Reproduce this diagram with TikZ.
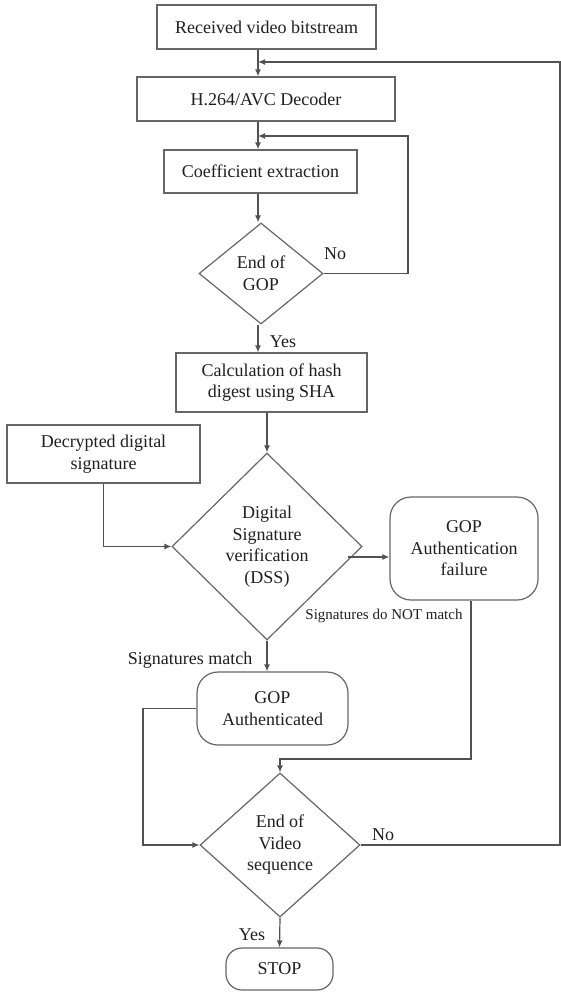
\documentclass[tikz,border=0pt]{standalone}
\usepackage{fontspec}
\setmainfont{Liberation Serif}
\newfontfamily\tnr{Liberation Serif}
\usetikzlibrary{shapes.geometric,arrows.meta}
\begin{document}
\begin{tikzpicture}[x=1pt,y=-1pt,
  every node/.style={text=black!88},
  box/.style={draw=black!60, line width=1.2pt, rectangle, inner sep=0pt, align=center,
    font=\tnr\fontsize{18}{21.5}\selectfont},
  rbox/.style={box, rounded corners=21pt},
  dia/.style={draw=black!60, line width=1.2pt, diamond, inner sep=0pt, align=center,
    font=\tnr\fontsize{18}{21.5}\selectfont},
  conn/.style={draw=black!68, line width=1.2pt},
  arr/.style={conn, -{Latex[length=7pt,width=6pt]}},
  lbl/.style={inner sep=0pt, font=\tnr\fontsize{18}{21.5}\selectfont},
  slbl/.style={inner sep=0pt, font=\tnr\fontsize{15}{18}\selectfont}]
\useasboundingbox (0,0) rectangle (561,992);
% helper coordinates
\coordinate (sp) at (258,0);
\coordinate (topy) at (0,62);
\coordinate (loopA) at (408,136);
\coordinate (rx) at (560,0);
\coordinate (lx) at (143,0);
\coordinate (fx) at (471,0);
\coordinate (fy) at (0,759);
\coordinate (fa) at (348,557);
% nodes
\node[box, minimum width=219pt, minimum height=44pt] (recv) at (266.5,27) {Received video bitstream};
\node[box, minimum width=258pt, minimum height=44pt] (h264) at (266,99) {H.264/AVC Decoder};
\node[box, minimum width=193pt, minimum height=43pt] (coef) at (260.5,171.5) {Coefficient extraction};
\node[dia, minimum width=124pt, minimum height=101pt] (gop) at (261,273.5) {End of\\GOP};
\node[box, minimum width=191pt, minimum height=59pt] (calc) at (271.5,382.5) {Calculation of hash\\digest using SHA};
\node[box, minimum width=193pt, minimum height=58pt] (dec) at (103.5,454) {Decrypted digital\\signature};
\node[dia, minimum width=190pt, minimum height=187pt] (dss) at (267,546.5) {Digital\\Signature\\verification\\(DSS)};
\node[rbox, minimum width=148pt, minimum height=103pt] (fail) at (464,548.5) {GOP\\Authentication\\failure};
\node[rbox, minimum width=151pt, minimum height=73pt] (auth) at (272.5,708.5) {GOP\\Authenticated};
\node[dia, minimum width=160pt, minimum height=144pt] (endv) at (280,845) {End of\\Video\\sequence};
\node[rbox, rounded corners=16pt, minimum width=107pt, minimum height=42pt] (stop) at (279.5,969) {STOP};
% connectors
\draw[arr] (recv.south -| sp) -- (h264.north -| sp);
\draw[arr] (h264.south -| sp) -- (coef.north -| sp);
\draw[arr] (coef.south -| sp) -- (gop.north -| sp);
\draw[arr] (gop.south -| sp) -- (calc.north -| sp);
\draw[arr] (gop.east) -| (loopA) -- (loopA -| sp);
\draw[arr] (calc.south -| dss) -- (dss.north);
\draw[arr] (dec.south) |- (dss.west);
\draw[arr, line width=1.8pt] (fa) -- (fa -| fail.west);
\draw[arr] (dss.south) -- (auth.north -| dss);
\draw[arr] (auth.west) -| (lx |- endv.west) -- (endv.west);
\draw[arr] (fail.south -| fx) |- (endv.north |- fy) -- (endv.north);
\draw[arr] (endv.south) -- (stop.north);
\draw[arr] (endv.east) -| (rx |- topy) -- (sp |- topy);
% labels
\node[lbl] (noA) at (335,254) {No};
\node[lbl] (yesA) at (283,342) {Yes};
\node[lbl] (smatch) at (190,660) {Signatures match};
\node[slbl] (snot) at (384,616) {Signatures do NOT match};
\node[lbl] (noB) at (383,835) {No};
\node[lbl] (yesB) at (252,935) {Yes};
\end{tikzpicture}
\end{document}
